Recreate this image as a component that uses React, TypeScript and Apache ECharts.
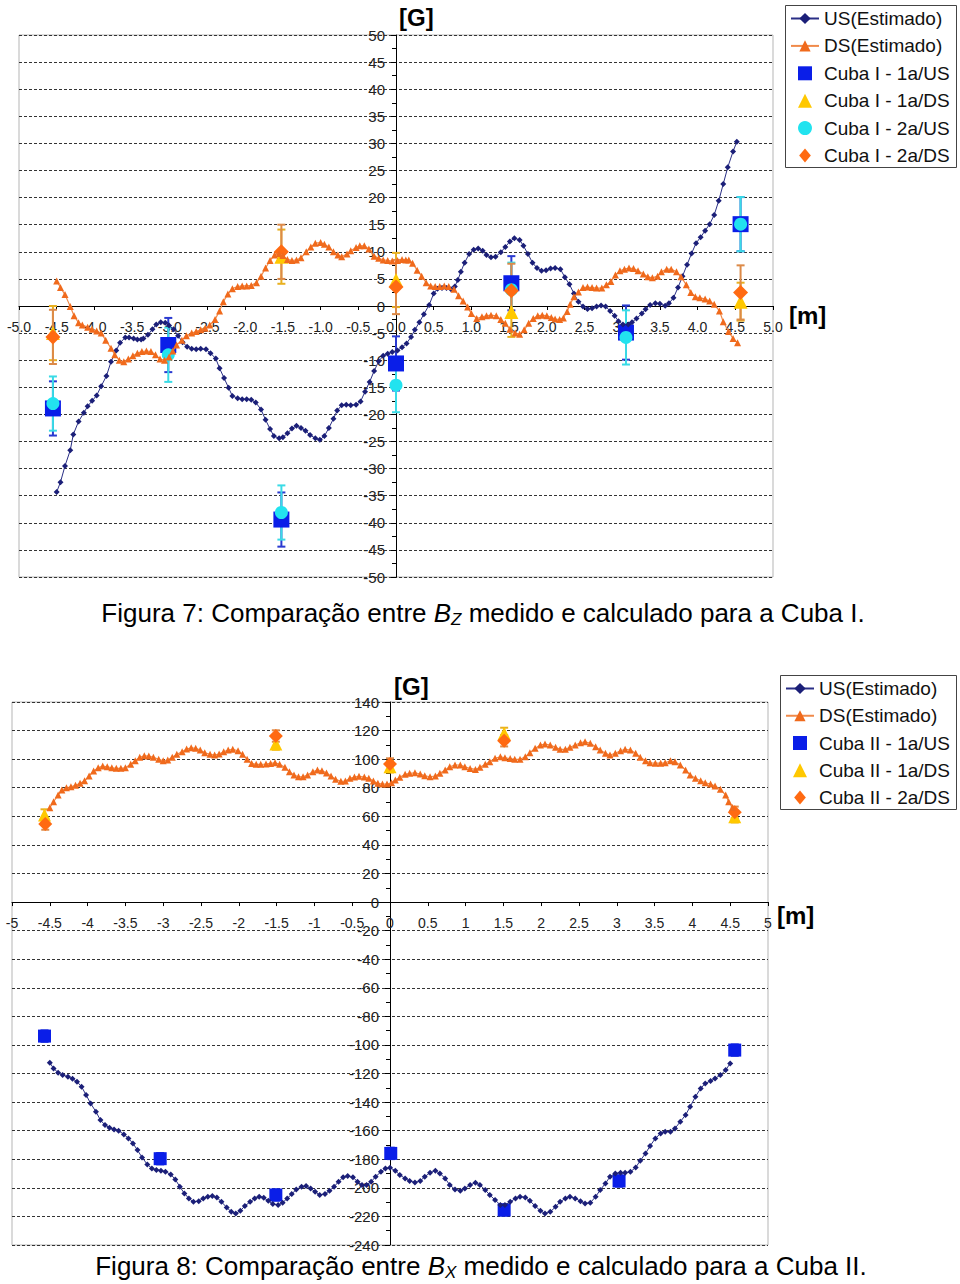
import React, { useEffect, useRef } from "react";
import * as echarts from "echarts";

const FONT = "'Liberation Sans', Arial, Helvetica, sans-serif";

// ---------- Figura 7 (Bz, Cuba I) ----------
const TOP_US: number[][] = [
  [-4.5, -34.3], [-4.45, -32.5], [-4.39, -29.5], [-4.32, -26.6], [-4.28, -23.7], [-4.21, -21.3], [-4.14, -19.7],
  [-4.09, -18.5], [-4.03, -17.5], [-3.97, -16.5], [-3.91, -14.8], [-3.84, -12.9], [-3.78, -10.3], [-3.71, -8.2],
  [-3.66, -6.8], [-3.59, -5.8], [-3.54, -5.8], [-3.48, -6.0], [-3.43, -6.2], [-3.38, -6.2], [-3.35, -6.0],
  [-3.29, -5.3], [-3.23, -4.3], [-3.18, -3.4], [-3.12, -3.0], [-3.06, -3.1], [-3.01, -3.6], [-2.95, -4.3],
  [-2.89, -5.5], [-2.83, -6.7], [-2.77, -7.5], [-2.71, -7.9], [-2.65, -8.0], [-2.59, -7.9], [-2.52, -8.0],
  [-2.46, -8.7], [-2.39, -9.7], [-2.34, -11.5], [-2.28, -13.3], [-2.22, -15.1], [-2.17, -16.6], [-2.1, -17.0],
  [-2.04, -17.2], [-1.98, -17.2], [-1.92, -17.3], [-1.86, -17.8], [-1.79, -19.1], [-1.73, -21.0], [-1.67, -22.7],
  [-1.62, -24.0], [-1.55, -24.4], [-1.5, -24.2], [-1.44, -23.5], [-1.38, -22.6], [-1.32, -22.1], [-1.26, -22.5],
  [-1.2, -23.0], [-1.14, -23.8], [-1.07, -24.4], [-1.01, -24.7], [-0.95, -24.0], [-0.89, -22.5], [-0.83, -20.8],
  [-0.78, -19.3], [-0.72, -18.3], [-0.66, -18.2], [-0.6, -18.3], [-0.53, -18.2], [-0.47, -17.6], [-0.41, -15.8],
  [-0.35, -14.0], [-0.29, -12.0], [-0.23, -10.2], [-0.17, -9.2], [-0.11, -8.8], [-0.05, -8.5], [0.02, -8.2],
  [0.08, -7.6], [0.14, -6.9], [0.2, -5.7], [0.25, -4.4], [0.31, -3.0], [0.37, -1.5], [0.44, 0.2], [0.5, 2.3],
  [0.55, 3.2], [0.61, 3.3], [0.67, 3.3], [0.73, 3.1], [0.78, 3.6], [0.82, 4.8], [0.86, 6.3], [0.91, 8.0],
  [0.97, 9.6], [1.03, 10.4], [1.09, 10.6], [1.15, 10.2], [1.2, 9.4], [1.26, 9.0], [1.32, 9.1], [1.39, 9.9],
  [1.45, 10.9], [1.51, 11.9], [1.57, 12.5], [1.64, 12.2], [1.69, 11.1], [1.75, 9.6], [1.81, 8.0], [1.87, 7.0],
  [1.93, 6.5], [1.99, 6.6], [2.05, 6.9], [2.11, 7.0], [2.18, 6.8], [2.24, 5.3], [2.3, 4.0], [2.36, 2.3],
  [2.42, 0.8], [2.48, -0.1], [2.54, -0.55], [2.6, -0.4], [2.66, -0.1], [2.72, 0.1], [2.78, -0.1], [2.84, -0.9],
  [2.9, -1.8], [2.95, -2.8], [3.01, -3.4], [3.08, -3.4], [3.13, -3.0], [3.19, -2.3], [3.26, -1.4], [3.31, -0.6],
  [3.37, 0.2], [3.44, 0.5], [3.5, 0.4], [3.57, 0.05], [3.62, 0.5], [3.68, 1.5], [3.74, 3.4], [3.8, 5.5],
  [3.86, 7.6], [3.92, 9.7], [3.98, 11.6], [4.04, 12.7], [4.1, 13.9], [4.16, 15.1], [4.22, 16.8], [4.28, 19.4],
  [4.34, 22.5], [4.4, 25.6], [4.47, 28.5], [4.52, 30.3],
];

const TOP_DS: number[][] = [
  [-4.5, 4.6], [-4.45, 3.4], [-4.39, 2.1], [-4.32, -0.1], [-4.27, -1.8], [-4.21, -3.1], [-4.16, -3.5],
  [-4.09, -3.9], [-4.03, -4.3], [-3.97, -4.6], [-3.91, -5.0], [-3.85, -6.3], [-3.78, -7.8], [-3.73, -9.0],
  [-3.67, -10.0], [-3.61, -10.3], [-3.55, -9.8], [-3.49, -9.2], [-3.43, -8.7], [-3.37, -8.4], [-3.31, -8.3],
  [-3.25, -8.4], [-3.19, -9.0], [-3.13, -9.8], [-3.07, -10.0], [-3.01, -9.4], [-2.96, -8.3], [-2.91, -7.2],
  [-2.84, -6.3], [-2.78, -5.5], [-2.71, -5.0], [-2.65, -4.7], [-2.59, -4.4], [-2.53, -4.1], [-2.47, -3.5],
  [-2.4, -2.5], [-2.34, -0.9], [-2.29, 0.8], [-2.23, 2.2], [-2.17, 3.2], [-2.1, 3.6], [-2.04, 3.7],
  [-1.98, 3.7], [-1.92, 3.8], [-1.85, 4.3], [-1.79, 5.5], [-1.73, 7.0], [-1.67, 8.4], [-1.61, 9.4],
  [-1.55, 9.7], [-1.5, 9.3], [-1.44, 8.6], [-1.38, 8.4], [-1.32, 8.5], [-1.26, 8.9], [-1.19, 10.0],
  [-1.13, 10.9], [-1.07, 11.6], [-1.0, 11.7], [-0.95, 11.4], [-0.89, 10.9], [-0.83, 10.0], [-0.77, 9.4],
  [-0.72, 9.1], [-0.65, 9.6], [-0.6, 10.2], [-0.53, 10.8], [-0.48, 11.1], [-0.42, 11.1], [-0.36, 10.5],
  [-0.29, 9.2], [-0.23, 8.8], [-0.17, 8.5], [-0.11, 8.4], [-0.05, 8.3], [0.02, 8.4], [0.08, 8.6], [0.13, 8.5],
  [0.17, 8.5], [0.22, 7.9], [0.28, 6.6], [0.34, 5.5], [0.4, 4.3], [0.46, 3.7], [0.52, 3.6], [0.58, 3.6],
  [0.64, 3.7], [0.7, 3.6], [0.77, 3.1], [0.83, 1.9], [0.89, 0.9], [0.95, -0.2], [1.0, -1.4], [1.07, -2.3],
  [1.14, -2.0], [1.2, -1.8], [1.26, -1.7], [1.33, -1.8], [1.39, -2.5], [1.45, -3.2], [1.51, -4.3],
  [1.58, -5.0], [1.64, -5.2], [1.7, -4.4], [1.76, -3.2], [1.82, -2.3], [1.88, -1.8], [1.94, -1.7],
  [2.0, -1.8], [2.06, -2.1], [2.11, -2.4], [2.17, -2.5], [2.22, -2.2], [2.27, -1.0], [2.31, 0.3],
  [2.36, 1.7], [2.42, 2.6], [2.48, 3.4], [2.54, 3.5], [2.6, 3.4], [2.66, 3.3], [2.73, 3.3], [2.79, 3.9],
  [2.85, 4.5], [2.91, 5.7], [2.97, 6.5], [3.03, 6.8], [3.09, 7.0], [3.15, 6.9], [3.21, 6.5], [3.28, 5.9],
  [3.34, 5.4], [3.4, 5.2], [3.47, 5.5], [3.52, 6.3], [3.59, 6.8], [3.65, 6.8], [3.72, 6.3], [3.78, 5.4],
  [3.85, 3.9], [3.91, 2.5], [3.97, 1.7], [4.03, 1.5], [4.1, 1.3], [4.16, 0.9], [4.22, 0.3], [4.29, -0.9],
  [4.34, -2.9], [4.41, -4.7], [4.47, -6.0], [4.53, -6.8],
];

const TOP_1A_US: number[][] = [[-4.55, -18.9], [-3.02, -7.2], [-1.52, -39.4], [0.0, -10.6], [1.53, 4.2], [3.05, -4.9], [4.57, 15.1]];
const TOP_1A_US_ERR: number[] = [5, 5, 5, 5, 5, 5, 5];
const TOP_1A_DS: number[][] = [[-4.55, -5.0], [-1.52, 9.1], [0.0, 4.8], [1.53, -1.1], [4.57, 0.8]];
const TOP_1A_DS_ERR: number[] = [5, 5, 5, 4.6, 3.5];
const TOP_2A_US: number[][] = [[-4.55, -18.0], [-3.02, -9.0], [-1.52, -38.1], [0.0, -14.6], [1.53, 3.0], [3.05, -5.8], [4.57, 15.1]];
const TOP_2A_US_ERR: number[] = [5, 5, 5, 5, 5, 5, 5];
const TOP_2A_DS: number[][] = [[-4.55, -5.7], [-1.52, 10.0], [0.0, 3.5], [1.53, 2.8], [4.57, 2.5]];
const TOP_2A_DS_ERR: number[] = [5, 5, 5, 5, 5];

// ---------- Figura 8 (Bx, Cuba II) ----------
const BOT_US: number[][] = [
  [-4.5, -112.5], [-4.45, -116.4], [-4.39, -119.4], [-4.33, -121.1], [-4.26, -122.2], [-4.2, -123.6],
  [-4.14, -125.7], [-4.08, -129.2], [-4.02, -135.0], [-3.96, -140.9], [-3.89, -146.7], [-3.83, -152.6],
  [-3.77, -156.0], [-3.71, -157.9], [-3.65, -159.1], [-3.59, -160.0], [-3.52, -162.6], [-3.46, -165.4],
  [-3.4, -168.9], [-3.34, -173.6], [-3.28, -178.7], [-3.21, -183.6], [-3.15, -186.4], [-3.09, -187.5],
  [-3.03, -188.0], [-2.97, -188.7], [-2.9, -190.6], [-2.84, -194.1], [-2.78, -199.2], [-2.72, -203.9],
  [-2.66, -207.4], [-2.6, -209.8], [-2.53, -209.3], [-2.47, -207.4], [-2.41, -206.2], [-2.35, -205.7],
  [-2.29, -206.7], [-2.23, -209.8], [-2.16, -213.7], [-2.1, -216.8], [-2.04, -217.9], [-1.98, -216.1],
  [-1.92, -212.7], [-1.85, -209.8], [-1.79, -207.4], [-1.73, -206.2], [-1.67, -206.9], [-1.61, -209.1],
  [-1.55, -211.3], [-1.48, -212.0], [-1.42, -210.4], [-1.36, -207.4], [-1.3, -204.3], [-1.24, -201.1],
  [-1.17, -199.2], [-1.11, -198.7], [-1.05, -200.4], [-0.99, -202.7], [-0.93, -205.0], [-0.86, -204.3],
  [-0.8, -202.0], [-0.74, -199.2], [-0.68, -195.7], [-0.62, -192.6], [-0.56, -191.7], [-0.49, -192.6],
  [-0.43, -195.7], [-0.37, -198.0], [-0.31, -198.0], [-0.25, -195.7], [-0.19, -192.2], [-0.12, -188.8],
  [-0.06, -186.4], [0.0, -186.0], [0.07, -188.0], [0.13, -191.0], [0.2, -193.4], [0.26, -195.2],
  [0.33, -196.2], [0.4, -195.2], [0.46, -192.2], [0.53, -189.4], [0.6, -188.0], [0.66, -189.9],
  [0.73, -193.4], [0.79, -198.0], [0.86, -201.1], [0.93, -202.0], [0.99, -200.4], [1.06, -198.0],
  [1.13, -196.4], [1.19, -198.0], [1.26, -201.5], [1.32, -205.0], [1.39, -208.5], [1.46, -212.0],
  [1.52, -212.0], [1.59, -209.8], [1.66, -207.4], [1.72, -206.2], [1.79, -206.7], [1.85, -209.1],
  [1.92, -212.7], [1.99, -216.1], [2.05, -217.9], [2.12, -216.8], [2.19, -213.3], [2.25, -209.8],
  [2.32, -207.4], [2.38, -206.2], [2.45, -207.4], [2.52, -209.3], [2.58, -210.9], [2.65, -210.4],
  [2.72, -206.2], [2.78, -201.5], [2.85, -196.9], [2.91, -192.2], [2.98, -189.9], [3.05, -189.4],
  [3.11, -189.4], [3.18, -188.8], [3.25, -185.7], [3.31, -181.0], [3.38, -175.9], [3.44, -170.7],
  [3.51, -165.4], [3.58, -161.9], [3.64, -160.7], [3.71, -160.7], [3.77, -158.4], [3.84, -153.7],
  [3.91, -149.0], [3.97, -143.2], [4.04, -136.2], [4.11, -130.4], [4.17, -126.9], [4.24, -125.3],
  [4.3, -123.4], [4.37, -121.1], [4.44, -117.6], [4.5, -112.9],
];

const BOT_DS: number[][] = [
  [-4.5, 66.0], [-4.45, 70.2], [-4.39, 74.9], [-4.34, 78.4], [-4.28, 80.0], [-4.22, 80.7], [-4.16, 81.7],
  [-4.1, 83.1], [-4.04, 84.9], [-3.98, 88.2], [-3.92, 91.7], [-3.86, 94.0], [-3.8, 95.2], [-3.74, 94.7],
  [-3.68, 94.0], [-3.62, 93.6], [-3.56, 93.6], [-3.5, 94.0], [-3.43, 96.4], [-3.37, 98.9], [-3.31, 101.3],
  [-3.25, 102.4], [-3.19, 102.2], [-3.13, 101.3], [-3.06, 99.9], [-3.0, 98.9], [-2.94, 99.4], [-2.88, 101.3],
  [-2.82, 103.4], [-2.75, 105.2], [-2.69, 107.1], [-2.63, 108.0], [-2.57, 107.6], [-2.51, 106.4],
  [-2.45, 104.5], [-2.38, 103.4], [-2.32, 102.9], [-2.26, 103.6], [-2.2, 105.2], [-2.14, 106.4],
  [-2.08, 106.9], [-2.01, 105.9], [-1.95, 103.4], [-1.89, 99.9], [-1.83, 97.0], [-1.77, 96.4],
  [-1.71, 96.4], [-1.64, 96.6], [-1.58, 97.0], [-1.52, 97.5], [-1.46, 96.4], [-1.39, 94.3], [-1.33, 91.2],
  [-1.27, 88.9], [-1.21, 87.7], [-1.15, 87.7], [-1.09, 88.9], [-1.02, 91.2], [-0.96, 92.4], [-0.9, 91.9],
  [-0.84, 90.4], [-0.78, 88.2], [-0.72, 85.9], [-0.65, 84.5], [-0.59, 84.7], [-0.53, 86.6], [-0.47, 87.5],
  [-0.41, 88.0], [-0.34, 87.5], [-0.28, 86.6], [-0.22, 84.7], [-0.16, 83.1], [-0.1, 82.6], [-0.04, 82.6],
  [0.02, 83.5], [0.07, 85.4], [0.13, 87.3], [0.2, 89.4], [0.26, 90.1], [0.33, 90.5], [0.4, 89.6],
  [0.46, 88.4], [0.53, 87.7], [0.6, 88.2], [0.66, 90.1], [0.73, 92.4], [0.79, 94.7], [0.86, 95.9],
  [0.93, 95.9], [0.99, 94.7], [1.06, 93.5], [1.13, 92.8], [1.19, 94.3], [1.26, 96.4], [1.32, 98.2],
  [1.39, 100.6], [1.46, 101.7], [1.52, 101.0], [1.59, 100.4], [1.65, 99.9], [1.72, 99.9], [1.79, 101.7],
  [1.85, 104.5], [1.92, 107.6], [1.99, 109.9], [2.05, 110.6], [2.12, 109.9], [2.19, 108.3], [2.25, 106.9],
  [2.32, 106.9], [2.38, 108.3], [2.45, 109.9], [2.52, 111.5], [2.58, 112.2], [2.65, 111.1], [2.72, 108.7],
  [2.78, 106.4], [2.85, 104.1], [2.91, 102.9], [2.98, 104.1], [3.05, 105.9], [3.11, 106.9], [3.18, 106.4],
  [3.25, 104.1], [3.31, 101.3], [3.38, 98.9], [3.44, 97.5], [3.51, 97.2], [3.58, 97.2], [3.64, 97.5],
  [3.71, 98.9], [3.77, 98.2], [3.84, 95.9], [3.91, 92.4], [3.97, 88.9], [4.04, 86.6], [4.11, 84.9],
  [4.17, 83.5], [4.24, 82.6], [4.3, 81.2], [4.37, 78.9], [4.44, 74.9], [4.48, 70.2], [4.53, 66.2],
];

const BOT_1A_US: number[][] = [[-4.57, -93.8], [-3.04, -179.6], [-1.51, -205.0], [0.01, -175.9], [1.51, -215.5], [3.03, -195.2], [4.56, -103.6]];
const BOT_1A_US_ERR: number[] = [4, 4, 4, 4, 4, 4, 4];
const BOT_1A_DS: number[][] = [[-4.57, 60.9], [-1.51, 110.6], [0.0, 94.7], [1.51, 118.0], [4.56, 59.7]];
const BOT_1A_DS_ERR: number[] = [4, 4, 4, 4, 4];
const BOT_2A_DS: number[][] = [[-4.56, 54.6], [-1.51, 116.2], [0.0, 96.6], [1.51, 112.9], [4.56, 62.8]];
const BOT_2A_DS_ERR: number[] = [4, 4, 4, 4, 4];

const TOP_LEGEND = ["US(Estimado)", "DS(Estimado)", "Cuba I - 1a/US", "Cuba I - 1a/DS", "Cuba I - 2a/US", "Cuba I - 2a/DS"];
const BOT_LEGEND = ["US(Estimado)", "DS(Estimado)", "Cuba II - 1a/US", "Cuba II - 1a/DS", "Cuba II - 2a/DS"];

const C_US = "#1b1f78";
const C_DS = "#f06a1c";
const C_SQ = "#0a1ee8";
const C_TRI = "#ffc800";
const C_CIR = "#22e3ef";
const C_DIA = "#ff6a12";

const ICON_SQ = "path://M0,0L10,0L10,10L0,10Z";
const ICON_TRI = "path://M5,0L10,10L0,10Z";
const ICON_DIA = "path://M5,0L10,6L5,12L0,6Z";

const ICONS: Record<string, string> = {
  "Cuba I - 1a/US": ICON_SQ,
  "Cuba I - 1a/DS": ICON_TRI,
  "Cuba I - 2a/US": "circle",
  "Cuba I - 2a/DS": ICON_DIA,
  "Cuba II - 1a/US": ICON_SQ,
  "Cuba II - 1a/DS": ICON_TRI,
  "Cuba II - 2a/DS": ICON_DIA,
};

function errSeries(pts: number[][], errs: number[], color: string, axis: number, cap: number) {
  return {
    type: "custom",
    name: "err",
    xAxisIndex: axis,
    yAxisIndex: axis,
    silent: true,
    data: pts.map((p, i) => [p[0], p[1] - errs[i], p[1] + errs[i]]),
    encode: { x: 0, y: [1, 2] },
    renderItem: (_params: any, api: any) => {
      const x = api.value(0);
      const a = api.coord([x, api.value(1)]);
      const b = api.coord([x, api.value(2)]);
      const st = { stroke: color, lineWidth: 2 };
      return {
        type: "group",
        children: [
          { type: "line", shape: { x1: a[0], y1: a[1], x2: b[0], y2: b[1] }, style: st },
          { type: "line", shape: { x1: a[0] - cap, y1: a[1], x2: a[0] + cap, y2: a[1] }, style: st },
          { type: "line", shape: { x1: b[0] - cap, y1: b[1], x2: b[0] + cap, y2: b[1] }, style: st },
        ],
      };
    },
  };
}

function scatter(name: string, pts: number[][], symbol: string, size: number, color: string, axis: number) {
  return {
    type: "scatter",
    name,
    xAxisIndex: axis,
    yAxisIndex: axis,
    symbol,
    symbolSize: size,
    itemStyle: { color, opacity: 1 },
    data: pts,
  };
}

function estLines(axis: number, us: number[][], ds: number[][]) {
  return [
    {
      type: "line",
      name: "US(Estimado)",
      xAxisIndex: axis,
      yAxisIndex: axis,
      data: us,
      symbol: "diamond",
      symbolSize: 6,
      showSymbol: true,
      itemStyle: { color: C_US },
      lineStyle: { color: "#2a2f86", width: 1 },
    },
    {
      type: "line",
      name: "DS(Estimado)",
      xAxisIndex: axis,
      yAxisIndex: axis,
      data: ds,
      symbol: "triangle",
      symbolSize: 7,
      showSymbol: true,
      itemStyle: { color: C_DS },
      lineStyle: { color: "#f08a4a", width: 1.2 },
    },
  ];
}

const axisText = { fontFamily: FONT, fontSize: 14, color: "#222" };

function xAxisOpt(grid: number, offset: number, fmt: (v: number) => string) {
  return {
    type: "value",
    gridIndex: grid,
    position: "bottom",
    offset,
    min: -5,
    max: 5,
    interval: 0.5,
    axisLine: { onZero: false, lineStyle: { color: "#000", width: 1 } },
    axisTick: { show: true, length: 4, inside: false, lineStyle: { color: "#000" } },
    axisLabel: { ...axisText, margin: 14, formatter: fmt },
    splitLine: { show: false },
  };
}

function yAxisOpt(grid: number, offset: number, min: number, max: number, interval: number) {
  return {
    type: "value",
    gridIndex: grid,
    position: "left",
    offset,
    min,
    max,
    interval,
    axisLine: { onZero: false, lineStyle: { color: "#000", width: 1 } },
    axisTick: { show: true, length: 5, lineStyle: { color: "#000" } },
    minorTick: { show: true, splitNumber: 2, length: 4, lineStyle: { color: "#000" } },
    axisLabel: { ...axisText, fontSize: 15, margin: 11 },
    splitLine: { show: true, lineStyle: { color: "#333", width: 1, type: [3, 2] } },
  };
}

function legendOpt(left: number, top: number, names: string[], gap: number) {
  return {
    orient: "vertical",
    left,
    top,
    padding: 0,
    itemGap: gap,
    itemWidth: 28,
    itemHeight: 14,
    selectedMode: false,
    data: names.map((n) => (ICONS[n] ? { name: n, icon: ICONS[n] } : { name: n })),
    textStyle: { fontFamily: FONT, fontSize: 19, color: "#111", lineHeight: 18 },
  };
}

function caption(x: number, y: number, pre: string, sub: string, post: string) {
  return {
    type: "text",
    x,
    y,
    style: {
      text: pre + "{i|B}{s|" + sub + "}" + post,
      align: "center",
      verticalAlign: "middle",
      fontFamily: FONT,
      fontSize: 26,
      fill: "#000",
      rich: {
        i: { fontFamily: FONT, fontSize: 26, fontStyle: "italic", fill: "#000" },
        s: { fontFamily: FONT, fontSize: 17, fontStyle: "italic", fill: "#000", verticalAlign: "bottom", lineHeight: 30 },
      },
    },
  };
}

function unit(x: number, y: number, t: string) {
  return {
    type: "text",
    x,
    y,
    style: { text: t, fontFamily: FONT, fontSize: 24, fontWeight: "bold", fill: "#000", align: "left", verticalAlign: "middle" },
  };
}

// plot geometry
const G1 = { left: 19, top: 35, width: 754, height: 542 };
const G2 = { left: 12, top: 702, width: 756, height: 543 };
const zeroOffsetX = (g: any, min: number, max: number) => -(g.width * (0 - min)) / (max - min);
const zeroOffsetY = (g: any, min: number, max: number) => -(g.height * (0 - min)) / (max - min);

export default function App() {
  const ref = useRef<HTMLDivElement>(null);
  useEffect(() => {
    if (!ref.current) return;
    const chart = echarts.init(ref.current, undefined, { renderer: "svg" });
    const option: any = {
      animation: false,
      backgroundColor: "#fff",
      grid: [
        { ...G1, show: true, borderColor: "#b5b5b5", borderWidth: 1, containLabel: false, outerBoundsMode: "none" },
        { ...G2, show: true, borderColor: "#b5b5b5", borderWidth: 1, containLabel: false, outerBoundsMode: "none" },
      ],
      xAxis: [
        xAxisOpt(0, zeroOffsetY(G1, -50, 50), (v: number) => v.toFixed(1)),
        xAxisOpt(1, zeroOffsetY(G2, -240, 140), (v: number) => String(Math.round(v * 10) / 10)),
      ],
      yAxis: [
        yAxisOpt(0, zeroOffsetX(G1, -5, 5), -50, 50, 5),
        yAxisOpt(1, zeroOffsetX(G2, -5, 5), -240, 140, 20),
      ],
      legend: [legendOpt(790, 9, TOP_LEGEND, 8.4), legendOpt(785, 679, BOT_LEGEND, 8.25)],
      graphic: [
        { type: "rect", shape: { x: 785.5, y: 5.5, width: 171, height: 162 }, style: { fill: "none", stroke: "#444", lineWidth: 1 } },
        { type: "rect", shape: { x: 780.5, y: 675.5, width: 176, height: 134 }, style: { fill: "none", stroke: "#444", lineWidth: 1 } },
        unit(399, 17, "[G]"),
        unit(789, 315, "[m]"),
        unit(394, 686, "[G]"),
        unit(777, 915, "[m]"),
        caption(483, 613, "Figura 7: Comparação entre ", "Z", " medido e calculado para a Cuba I."),
        caption(481, 1266, "Figura 8: Comparação entre ", "X", " medido e calculado para a Cuba II."),
      ],
      series: [
        ...estLines(0, TOP_US, TOP_DS),
        errSeries(TOP_1A_US, TOP_1A_US_ERR, "#2a3ad0", 0, 4),
        scatter("Cuba I - 1a/US", TOP_1A_US, "rect", 16, C_SQ, 0),
        errSeries(TOP_1A_DS, TOP_1A_DS_ERR, "#e8b020", 0, 4),
        scatter("Cuba I - 1a/DS", TOP_1A_DS, "triangle", 14, C_TRI, 0),
        errSeries(TOP_2A_US, TOP_2A_US_ERR, "#3adbe6", 0, 4),
        scatter("Cuba I - 2a/US", TOP_2A_US, "circle", 13, C_CIR, 0),
        errSeries(TOP_2A_DS, TOP_2A_DS_ERR, "#dc8a48", 0, 4),
        scatter("Cuba I - 2a/DS", TOP_2A_DS, "diamond", 15, C_DIA, 0),
        ...estLines(1, BOT_US, BOT_DS),
        errSeries(BOT_1A_US, BOT_1A_US_ERR, "#2a3ad0", 1, 4),
        scatter("Cuba II - 1a/US", BOT_1A_US, "rect", 13, C_SQ, 1),
        errSeries(BOT_1A_DS, BOT_1A_DS_ERR, "#e8b020", 1, 4),
        scatter("Cuba II - 1a/DS", BOT_1A_DS, "triangle", 13, C_TRI, 1),
        errSeries(BOT_2A_DS, BOT_2A_DS_ERR, "#dc8a48", 1, 4),
        scatter("Cuba II - 2a/DS", BOT_2A_DS, "diamond", 14, C_DIA, 1),
      ],
    };
    chart.setOption(option);
    return () => chart.dispose();
  }, []);
  return <div ref={ref} style={{ position: "absolute", left: 0, top: 0, width: 960, height: 1284 }} />;
}
